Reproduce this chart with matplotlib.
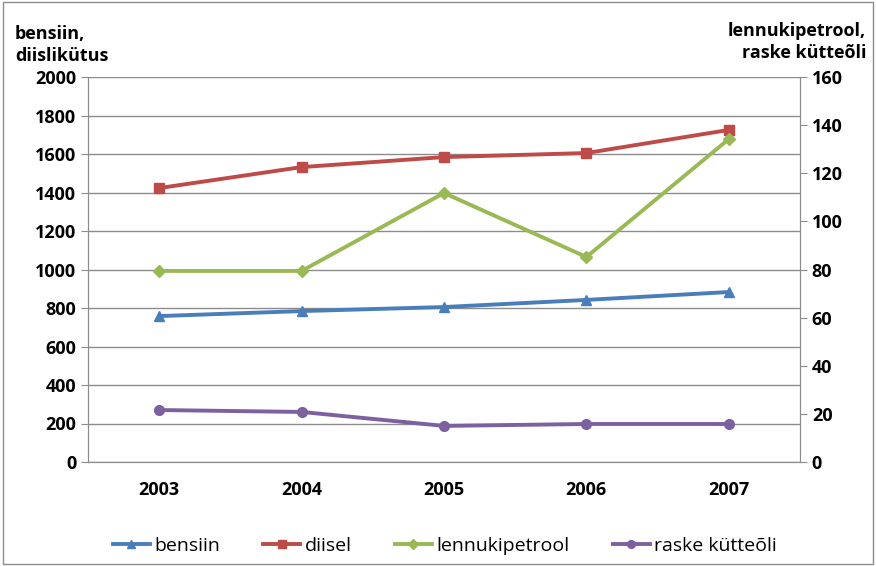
import matplotlib
matplotlib.use("Agg")
import matplotlib.pyplot as plt
import numpy as np

plt.rcParams['font.family'] = ['Open Sans', 'DejaVu Sans']

years = ['2003', '2004', '2005', '2006', '2007']
bensiin = [758, 784, 805, 842, 883]
diisel = [1423, 1532, 1584, 1605, 1725]
lennukipetrool = [79.4, 79.4, 111.8, 85.2, 134.2]
raske = [21.6, 20.8, 15.0, 15.8, 15.8]

c_blue = '#4A7EBB'
c_red = '#BE4B48'
c_green = '#98B954'
c_purple = '#7D60A0'

fig = plt.figure(figsize=(8.76, 5.66), dpi=100)
ax = fig.add_axes([88/876, 1-462/566, 712/876, 385/566])
ax2 = ax.twinx()

x = np.arange(len(years))
l1, = ax.plot(x, bensiin, color=c_blue, marker='^', ms=7, lw=2.8, label='bensiin')
l2, = ax.plot(x, diisel, color=c_red, marker='s', ms=7, lw=2.8, label='diisel')
l3, = ax2.plot(x, lennukipetrool, color=c_green, marker='D', ms=6, lw=2.8, label='lennukipetrool')
l4, = ax2.plot(x, raske, color=c_purple, marker='o', ms=7, lw=2.8, label='raske kütteõli')

ax.set_xlim(-0.5, 4.5)
ax.set_ylim(0, 2000)
ax2.set_ylim(0, 160)
ax.set_yticks(range(0, 2001, 200))
ax2.set_yticks(range(0, 161, 20))
ax.set_xticks(x)
ax.set_xticklabels(years)
ax.yaxis.grid(True, color='#8c8c8c', lw=1)
ax.set_axisbelow(True)

for a in (ax, ax2):
    for s in a.spines.values():
        s.set_color('#8c8c8c')
    a.spines['top'].set_visible(False)
    a.tick_params(colors='#8c8c8c', labelcolor='black', labelsize=13, length=5)
    for lab in a.get_yticklabels():
        lab.set_fontweight('bold')
ax.tick_params(axis='x', length=0, pad=14)
for lab in ax.get_xticklabels():
    lab.set_fontweight('bold')

fig.text(15/876, 1-45/566, 'bensiin,\ndiislikütus', ha='left', va='center',
         fontsize=13, fontweight='bold', linespacing=1.25)
fig.text(866/876, 1-42/566, 'lennukipetrool,\nraske kütteõli', ha='right', va='center',
         fontsize=13, fontweight='bold', linespacing=1.25)

fig.legend(handles=[l1, l2, l3, l4], loc='center', bbox_to_anchor=(445/876, 1-546/566),
           ncol=4, frameon=False, fontsize=14, handlelength=1.9, handletextpad=0.25,
           columnspacing=2.2, markerscale=0.8)

fig.patches.append(plt.Rectangle((0.003, 0.003), 0.994, 0.994, transform=fig.transFigure,
                                 fill=False, edgecolor='#8c8c8c', lw=1))

fig.savefig('out.png', dpi=100)
